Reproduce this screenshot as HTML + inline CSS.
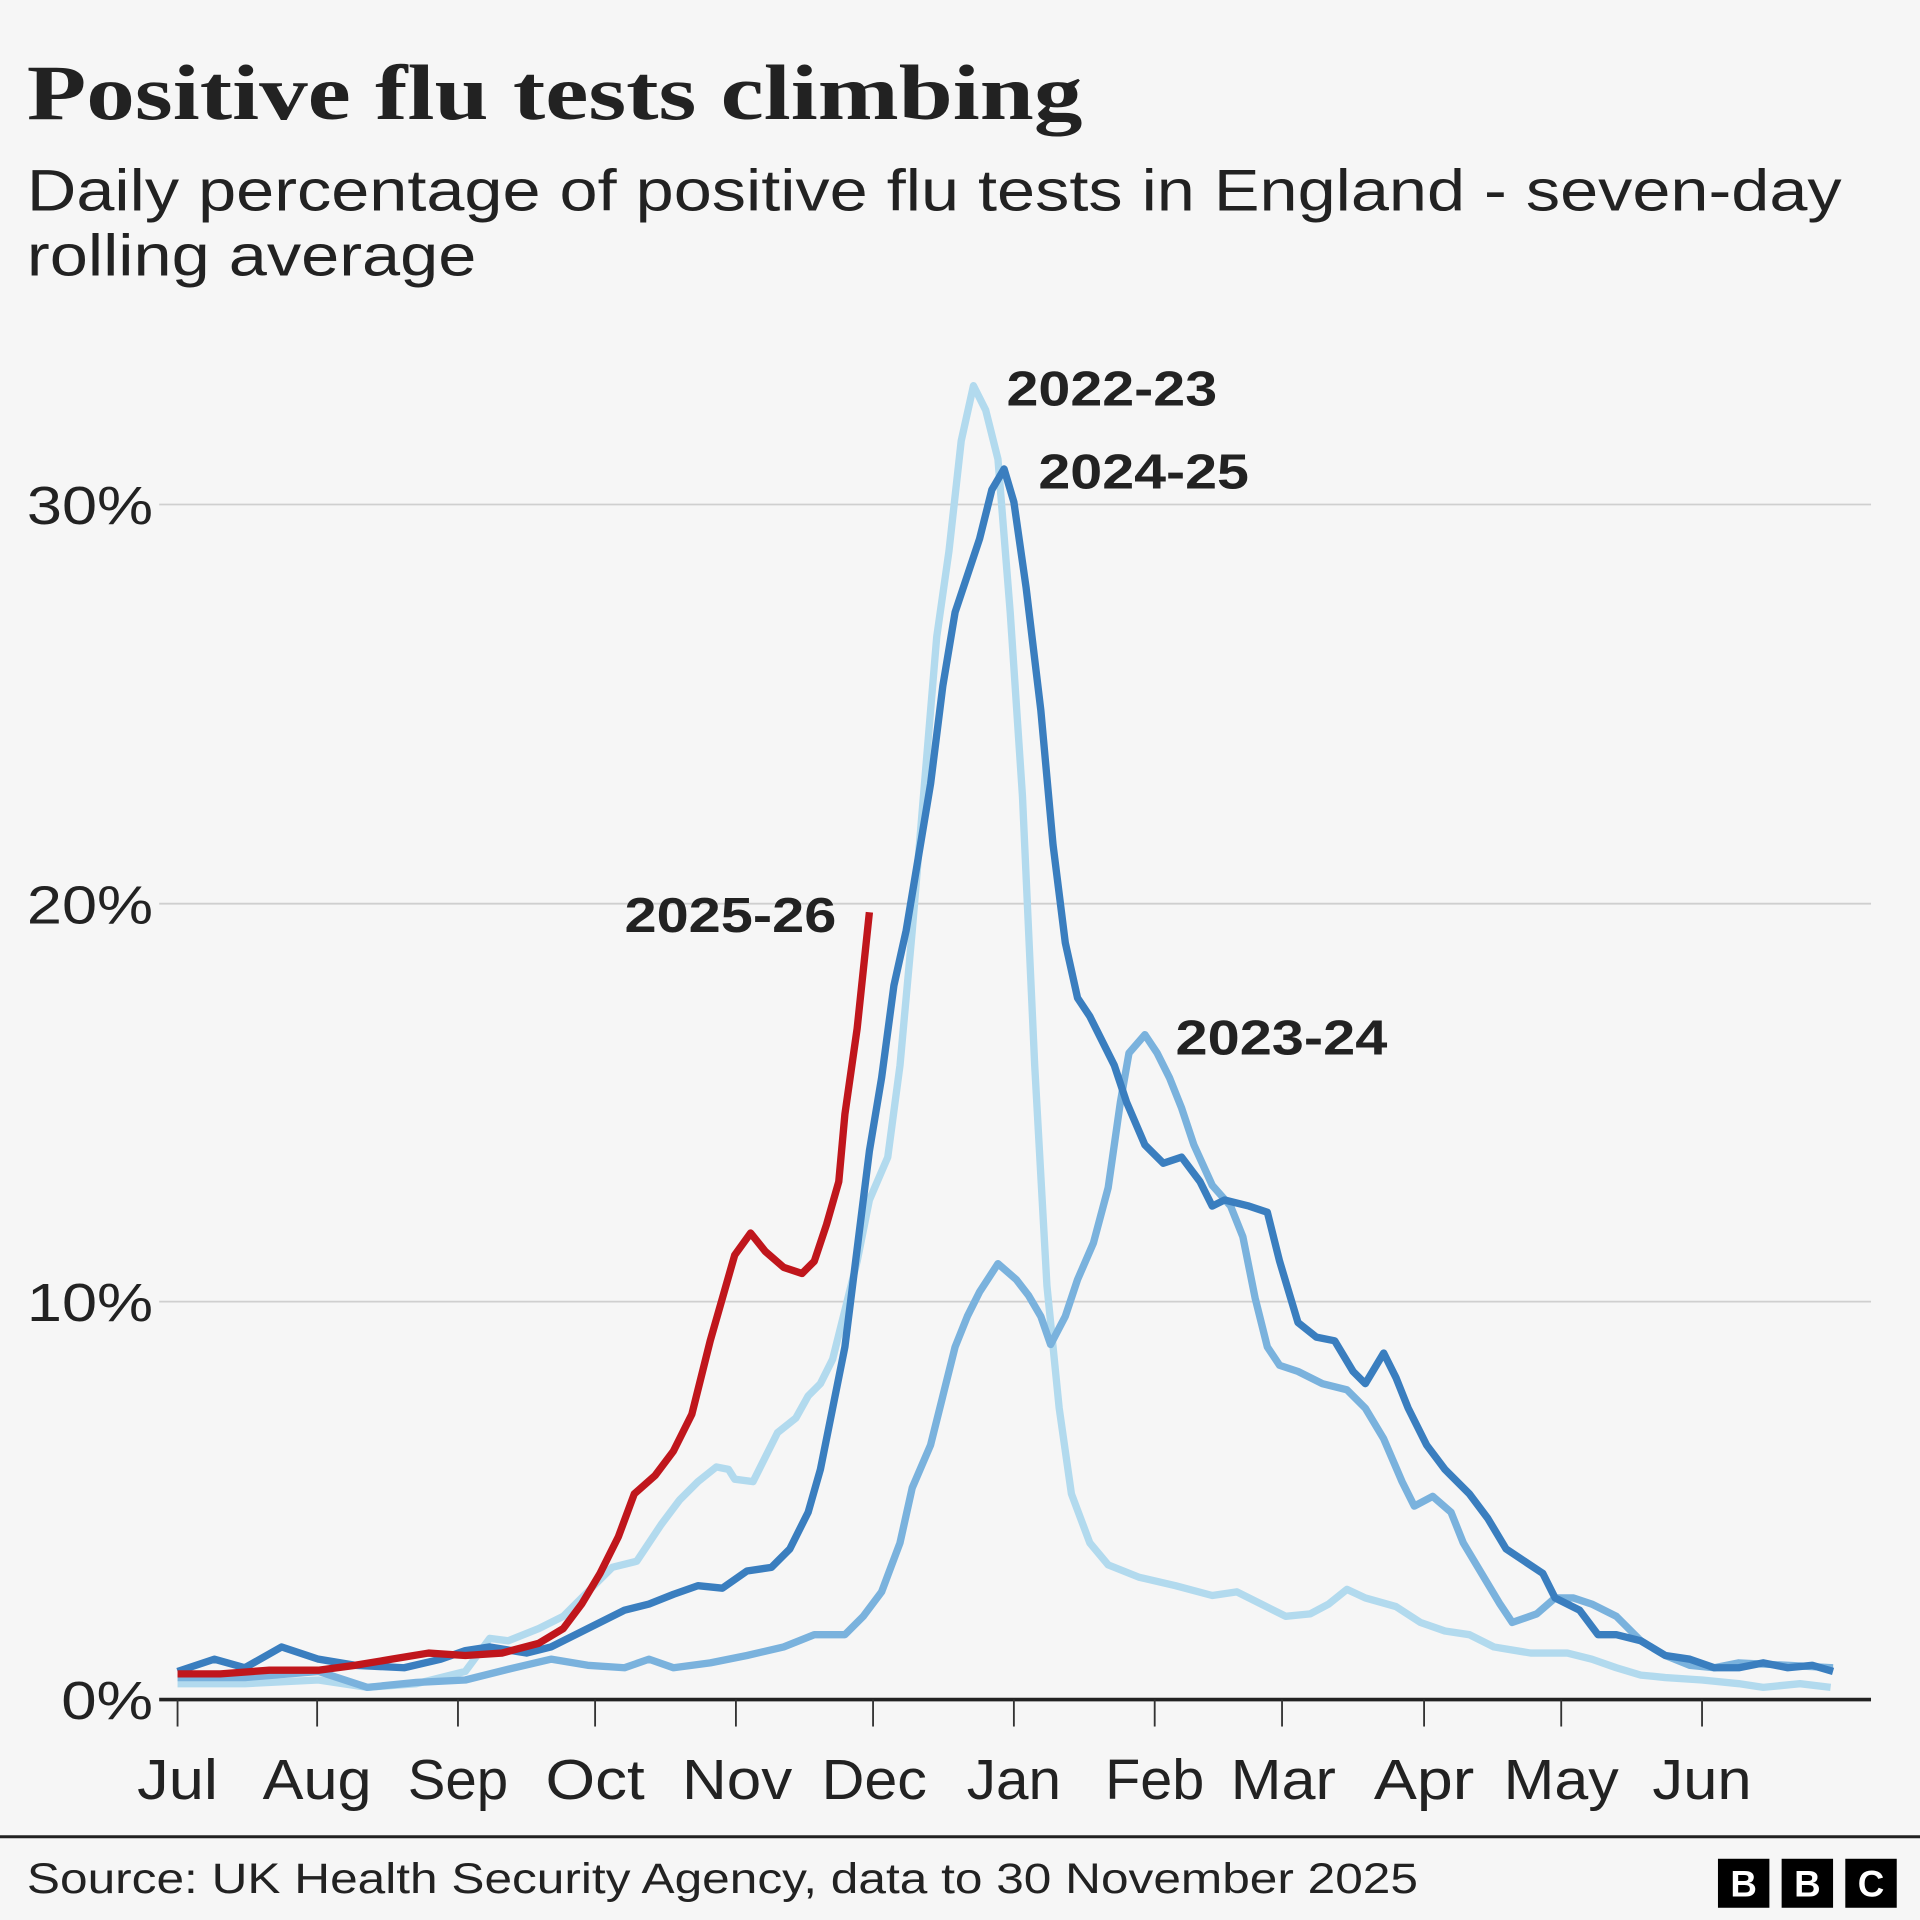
<!DOCTYPE html>
<html><head><meta charset="utf-8"><style>
html,body{margin:0;padding:0;background:#f6f6f6;}
svg{display:block}
</style></head><body>
<svg width="1920" height="1920" viewBox="0 0 1568 1568" xmlns="http://www.w3.org/2000/svg" font-family="'Liberation Sans',sans-serif">
<rect width="1568" height="1568" fill="#f6f6f6"/>
<text x="22" y="97" font-family="'Liberation Serif',serif" font-weight="bold" font-size="64" fill="#222" textLength="862" lengthAdjust="spacingAndGlyphs">Positive flu tests climbing</text>
<text x="22" y="172" font-size="48" fill="#222" textLength="1482" lengthAdjust="spacingAndGlyphs">Daily percentage of positive flu tests in England - seven-day</text>
<text x="22" y="225" font-size="48" fill="#222" textLength="367" lengthAdjust="spacingAndGlyphs">rolling average</text>
<g stroke="#cfcfcf" stroke-width="1.5">
<line x1="130" y1="412" x2="1528" y2="412"/><line x1="130" y1="738" x2="1528" y2="738"/><line x1="130" y1="1063" x2="1528" y2="1063"/>
</g>
<g font-size="44" fill="#222" text-anchor="end">
<text x="125" y="428" textLength="103" lengthAdjust="spacingAndGlyphs">30%</text><text x="125" y="754" textLength="103" lengthAdjust="spacingAndGlyphs">20%</text><text x="125" y="1079" textLength="103" lengthAdjust="spacingAndGlyphs">10%</text><text x="125" y="1404" textLength="75" lengthAdjust="spacingAndGlyphs">0%</text>
</g>
<g fill="none" stroke-linejoin="round" stroke-width="6">
<polyline stroke="#b2daee" points="145,1375 200,1375 260,1372 300,1378 340,1375 380,1365 400,1338 415,1340 440,1330 460,1320 480,1300 500,1280 520,1275 540,1245 555,1225 570,1210 585,1198 595,1200 600,1208 615,1210 625,1190 635,1170 650,1158 660,1140 670,1130 680,1110 690,1070 700,1030 710,980 725,945 735,870 745,760 755,640 765,520 775,450 785,360 795,315 805,335 815,375 825,500 835,650 845,870 855,1050 865,1150 875,1220 890,1260 905,1278 930,1288 960,1295 990,1303 1010,1300 1030,1310 1050,1320 1070,1318 1085,1310 1100,1298 1115,1305 1140,1312 1160,1325 1180,1332 1200,1335 1220,1345 1250,1350 1280,1350 1300,1355 1320,1362 1340,1368 1360,1370 1390,1372 1420,1375 1440,1378 1470,1375 1495,1378"/>
<polyline stroke="#7ab2dd" points="145,1370 200,1370 260,1365 300,1378 340,1374 380,1372 420,1362 450,1355 480,1360 510,1362 530,1355 550,1362 580,1358 610,1352 640,1345 665,1335 690,1335 705,1320 720,1300 735,1260 745,1215 760,1180 770,1140 780,1100 790,1075 800,1055 815,1032 830,1045 840,1058 850,1075 858,1098 870,1075 880,1045 893,1015 905,970 915,900 922,860 935,845 945,860 955,880 965,905 975,935 990,968 1005,985 1015,1010 1025,1060 1035,1100 1045,1115 1060,1120 1080,1130 1100,1135 1115,1150 1130,1175 1145,1210 1155,1230 1170,1222 1185,1235 1195,1260 1210,1285 1225,1310 1235,1325 1255,1318 1270,1305 1285,1305 1300,1310 1320,1320 1340,1340 1360,1352 1380,1360 1400,1362 1420,1358 1460,1360 1497,1362"/>
<polyline stroke="#3a7ebf" points="145,1365 175,1355 200,1362 230,1345 260,1355 290,1360 330,1362 360,1355 380,1348 400,1345 430,1350 450,1345 470,1335 490,1325 510,1315 530,1310 550,1302 570,1295 590,1297 610,1283 630,1280 645,1265 660,1235 670,1200 680,1150 690,1100 700,1020 710,940 720,880 730,805 740,760 750,700 760,640 770,560 780,500 790,470 800,440 810,400 820,383 828,410 838,480 850,580 860,690 870,770 880,815 890,830 900,850 910,870 920,900 935,935 950,950 965,945 980,965 990,985 1000,980 1020,985 1035,990 1045,1030 1060,1080 1075,1092 1090,1095 1105,1120 1115,1130 1130,1105 1140,1125 1150,1150 1165,1180 1180,1200 1200,1220 1215,1240 1230,1265 1245,1275 1260,1285 1270,1305 1290,1315 1305,1335 1320,1335 1340,1340 1360,1352 1380,1355 1400,1362 1420,1362 1440,1358 1460,1362 1480,1360 1497,1365"/>
<polyline stroke="#c0161c" points="145,1367 180,1367 220,1364 260,1364 290,1360 320,1355 350,1350 380,1352 410,1350 440,1342 460,1330 475,1310 490,1285 505,1255 518,1220 535,1205 550,1185 565,1155 580,1095 590,1060 600,1025 613,1007 625,1022 640,1035 655,1040 665,1030 675,1000 685,965 690,910 700,840 710,745"/>
</g>
<line x1="130" y1="1388" x2="1528" y2="1388" stroke="#222" stroke-width="3"/>
<g stroke="#333" stroke-width="1.5">
<line x1="145" y1="1388" x2="145" y2="1410"/><line x1="259" y1="1388" x2="259" y2="1410"/><line x1="374" y1="1388" x2="374" y2="1410"/><line x1="486" y1="1388" x2="486" y2="1410"/><line x1="601" y1="1388" x2="601" y2="1410"/><line x1="713" y1="1388" x2="713" y2="1410"/><line x1="828" y1="1388" x2="828" y2="1410"/><line x1="943" y1="1388" x2="943" y2="1410"/><line x1="1047" y1="1388" x2="1047" y2="1410"/><line x1="1163" y1="1388" x2="1163" y2="1410"/><line x1="1275" y1="1388" x2="1275" y2="1410"/><line x1="1390" y1="1388" x2="1390" y2="1410"/>
</g>
<g font-size="46" fill="#222" text-anchor="middle" lengthAdjust="spacingAndGlyphs">
<text x="145" y="1469" textLength="66" lengthAdjust="spacingAndGlyphs">Jul</text><text x="259" y="1469" textLength="89" lengthAdjust="spacingAndGlyphs">Aug</text><text x="374" y="1469" textLength="82" lengthAdjust="spacingAndGlyphs">Sep</text><text x="486" y="1469" textLength="81" lengthAdjust="spacingAndGlyphs">Oct</text><text x="602" y="1469" textLength="90" lengthAdjust="spacingAndGlyphs">Nov</text><text x="714" y="1469" textLength="86" lengthAdjust="spacingAndGlyphs">Dec</text><text x="828" y="1469" textLength="77" lengthAdjust="spacingAndGlyphs">Jan</text><text x="943" y="1469" textLength="81" lengthAdjust="spacingAndGlyphs">Feb</text><text x="1048" y="1469" textLength="86" lengthAdjust="spacingAndGlyphs">Mar</text><text x="1163" y="1469" textLength="82" lengthAdjust="spacingAndGlyphs">Apr</text><text x="1275" y="1469" textLength="94" lengthAdjust="spacingAndGlyphs">May</text><text x="1390" y="1469" textLength="81" lengthAdjust="spacingAndGlyphs">Jun</text>
</g>
<g font-size="40" font-weight="bold" fill="#222">
<text x="822" y="331" textLength="172" lengthAdjust="spacingAndGlyphs">2022-23</text><text x="848" y="399" textLength="172" lengthAdjust="spacingAndGlyphs">2024-25</text><text x="510" y="761" textLength="173" lengthAdjust="spacingAndGlyphs">2025-26</text><text x="960" y="861" textLength="173" lengthAdjust="spacingAndGlyphs">2023-24</text>
</g>
<line x1="0" y1="1500" x2="1568" y2="1500" stroke="#222" stroke-width="2.5"/>
<text x="22" y="1546" font-size="35" fill="#222" textLength="1136" lengthAdjust="spacingAndGlyphs">Source: UK Health Security Agency, data to 30 November 2025</text>
<g fill="#000"><rect x="1403" y="1518" width="42" height="40"/><rect x="1455" y="1518" width="42" height="40"/><rect x="1507" y="1518" width="42" height="40"/></g>
<g fill="#fff" font-size="30" font-weight="bold" text-anchor="middle"><text x="1424" y="1549">B</text><text x="1476" y="1549">B</text><text x="1528" y="1549">C</text></g>
</svg>
</body></html>
